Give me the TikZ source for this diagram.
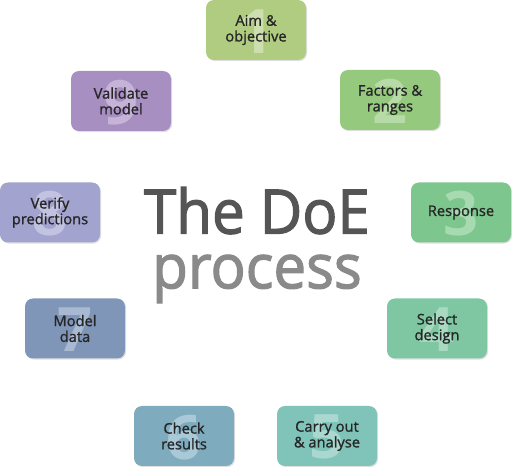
\documentclass[tikz,border=0pt]{standalone}
\usepackage{fontspec}
\setmainfont{Open Sans}
\newfontfamily\semibold{Open Sans}[FakeBold=1.2]
\newfontfamily\titlefont{Open Sans}[FakeBold=2]
\usetikzlibrary{shadows}
\definecolor{cA}{HTML}{B0CC80}\definecolor{dA}{HTML}{CDDFAF}
\definecolor{cB}{HTML}{94C97E}\definecolor{dB}{HTML}{B6DBA6}
\definecolor{cC}{HTML}{7DC68D}\definecolor{dC}{HTML}{A8DAB2}
\definecolor{cD}{HTML}{7EC7A2}\definecolor{dD}{HTML}{A9DAC1}
\definecolor{cE}{HTML}{7FC3B9}\definecolor{dE}{HTML}{AAD8D1}
\definecolor{cF}{HTML}{7FABBF}\definecolor{dF}{HTML}{AAC9D8}
\definecolor{cG}{HTML}{7F96B9}\definecolor{dG}{HTML}{AAB9D2}
\definecolor{cH}{HTML}{A2A3CE}\definecolor{dH}{HTML}{C2C3E0}
\definecolor{cI}{HTML}{A88FC2}\definecolor{dI}{HTML}{C6B4D8}
\definecolor{doeDark}{HTML}{555555}
\definecolor{doeLight}{HTML}{8A8A8A}
\tikzset{stepbox/.style n args={3}{rounded corners=6pt,minimum width=75pt,
    minimum height=45pt,inner sep=0pt,align=center,fill=#2,text=black!85,
    font=\semibold\fontsize{11}{11.8}\selectfont,
    drop shadow={shadow xshift=0.8pt,shadow yshift=-0.8pt,opacity=0.25},
    path picture={\node[text=#3,font=\fontsize{46}{46}\selectfont\bfseries]
      at ([yshift=-1pt]path picture bounding box.center) {#1};}},
  title/.style={align=center,font=\titlefont\fontsize{46}{41}\selectfont,
    xscale=0.95,transform shape}}

\begin{document}
\begin{tikzpicture}[x=0.75pt,y=-0.75pt]
\useasboundingbox (0,0) rectangle (512,467);
\node[stepbox={1}{cA}{dA}] (aim) at (256,30) {Aim \&\\objective};
\node[stepbox={2}{cB}{dB}] (factors) at (390,100) {Factors \&\\ranges};
\node[stepbox={3}{cC}{dC}] (response) at (461,212.5) {Response};
\node[stepbox={4}{cD}{dD}] (design) at (437,328.5) {Select\\design};
\node[stepbox={5}{cE}{dE}] (carry) at (327,436) {Carry out\\\& analyse};
\node[stepbox={6}{cF}{dF}] (check) at (184,436) {Check\\results};
\node[stepbox={7}{cG}{dG}] (model) at (75,328.5) {Model\\data};
\node[stepbox={8}{cH}{dH}] (verify) at (50,212.5) {Verify\\predictions};
\node[stepbox={9}{cI}{dI}] (validate) at (121,101) {Validate\\model};
\node[title] (doe) at (257,245)
 {\textcolor{doeDark}{The DoE}\\\textcolor{doeLight}{process}};
\end{tikzpicture}
\end{document}
